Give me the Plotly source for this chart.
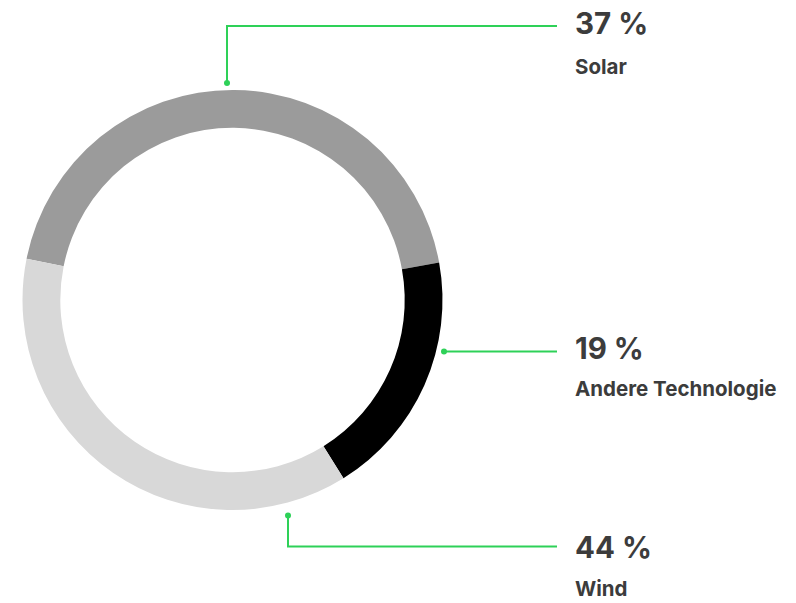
import plotly.graph_objects as go

# Ring segments as drawn (clockwise from the top-left boundary)
ring_names = ["Oben", "Andere Technologie", "Unten"]
ring_shares = [44, 19, 37]
ring_colors = ["#9b9b9b", "#000000", "#d8d8d8"]

# Callout texts
categories = ["Solar", "Andere Technologie", "Wind"]
percent_labels = ["37 %", "19 %", "44 %"]

W, H = 796, 603

fig = go.Figure()
fig.add_trace(go.Pie(
    labels=ring_names,
    values=ring_shares,
    marker=dict(colors=ring_colors, line=dict(width=0)),
    hole=0.82,
    sort=False,
    direction="clockwise",
    rotation=-78.7,
    textinfo="none",
    hoverinfo="skip",
    showlegend=False,
    domain=dict(x=[22.5 / W, 442.5 / W], y=[1 - 510 / H, 1 - 90 / H]),
))

green = "#2ed158"

def px(x):
    return x / W

def py(y):
    return 1 - y / H

# leader lines (paper pixel positions)
leaders = [
    [(227, 83), (227, 26), (557, 26)],
    [(444, 351.5), (557, 351.5)],
    [(288, 515.5), (288, 546.5), (557, 546.5)],
]
shapes = []
for pts in leaders:
    path = "M " + " L ".join(f"{px(x)},{py(y)}" for x, y in pts)
    shapes.append(dict(type="path", path=path, xref="paper", yref="paper",
                       line=dict(color=green, width=2)))
    x0, y0 = pts[0]
    r = 3
    shapes.append(dict(type="circle", xref="paper", yref="paper",
                       x0=px(x0 - r), x1=px(x0 + r), y0=py(y0 - r), y1=py(y0 + r),
                       fillcolor=green, line=dict(width=0)))

pct_y = [23.5, 348, 547]
lab_y = [66.5, 389, 588]
annotations = []
for i in range(3):
    annotations.append(dict(text=f"<b>{percent_labels[i]}</b>", x=px(573), y=py(pct_y[i]),
                            xref="paper", yref="paper", xanchor="left", yanchor="middle",
                            showarrow=False,
                            font=dict(family="Inter", size=29.5, color="#3c3c3c")))
    annotations.append(dict(text=f"<b>{categories[i]}</b>", x=px(573), y=py(lab_y[i]),
                            xref="paper", yref="paper", xanchor="left", yanchor="middle",
                            showarrow=False,
                            font=dict(family="Inter", size=20.5, color="#3c3c3c")))

fig.update_layout(
    width=W, height=H,
    margin=dict(l=0, r=0, t=0, b=0),
    paper_bgcolor="white", plot_bgcolor="white",
    shapes=shapes, annotations=annotations,
)

fig.write_html("out.html")
